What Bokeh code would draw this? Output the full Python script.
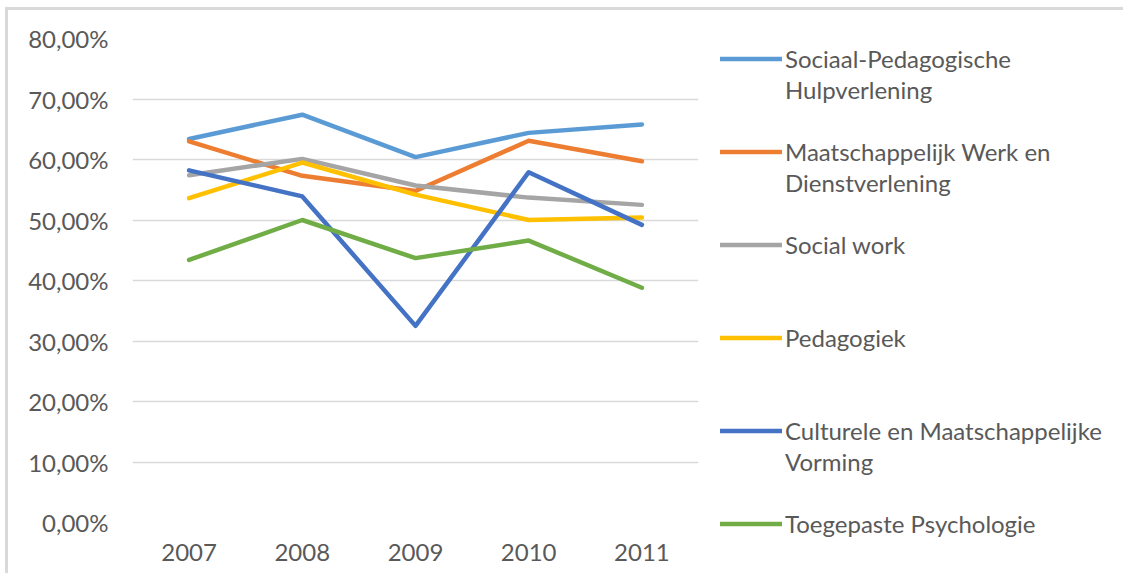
from bokeh.plotting import figure
from bokeh.models import FactorRange, Range1d, FixedTicker, Legend, LegendItem
from bokeh.embed import file_html
from bokeh.resources import INLINE

# ---- data ----
years = ["2007", "2008", "2009", "2010", "2011"]
sociaal_pedagogische = [63.4, 67.4, 60.4, 64.4, 65.8]
maatschappelijk_werk = [63.0, 57.3, 54.8, 63.1, 59.7]
social_work = [57.4, 60.1, 55.7, 53.7, 52.5]
pedagogiek = [53.6, 59.5, 54.2, 50.0, 50.4]
culturele_vorming = [58.2, 53.9, 32.5, 57.9, 49.2]
toegepaste_psychologie = [43.4, 50.0, 43.7, 46.6, 38.8]

series = [sociaal_pedagogische, maatschappelijk_werk, social_work,
          pedagogiek, culturele_vorming, toegepaste_psychologie]
legend_first_lines = ["Sociaal-Pedagogische", "Maatschappelijk Werk en", "Social work",
                      "Pedagogiek", "Culturele en Maatschappelijke", "Toegepaste Psychologie"]
legend_second_lines = ["Hulpverlening", "Dienstverlening", "", "", "Vorming", ""]
colors = ["#5B9BD5", "#ED7D31", "#A5A5A5", "#FFC000", "#4472C4", "#70AD47"]

y_ticks = [0, 10, 20, 30, 40, 50, 60, 70, 80]
y_tick_labels = ["0,00%", "10,00%", "20,00%", "30,00%", "40,00%",
                 "50,00%", "60,00%", "70,00%", "80,00%"]

FONT = "Lato"
TEXT = "#595959"

FRAME_W, FRAME_H = 566, 484
LEFT, TOP = 124, 28
W, H = 1112, 563

p = figure(x_range=FactorRange(*years), y_range=Range1d(0, 80),
           frame_width=FRAME_W, frame_height=FRAME_H,
           min_border_left=LEFT, min_border_top=TOP,
           min_border_right=W - LEFT - FRAME_W, min_border_bottom=H - TOP - FRAME_H,
           output_backend="svg", toolbar_location=None)
p.x_range.range_padding = 0
p.outline_line_color = None
p.background_fill_color = "white"
p.border_fill_color = "white"
p.styles = {"border-top": "3px solid #d9d9d9", "border-left": "3px solid #d9d9d9",
            "margin-left": "5px", "margin-top": "7px"}

p.yaxis.ticker = FixedTicker(ticks=y_ticks)
p.yaxis.major_label_overrides = {t: l for t, l in zip(y_ticks, y_tick_labels)}
for ax in (p.xaxis[0], p.yaxis[0]):
    ax.axis_line_color = None
    ax.major_tick_line_color = None
    ax.minor_tick_line_color = None
    ax.major_label_text_font = FONT
    ax.major_label_text_font_size = "24px"
    ax.major_label_text_color = TEXT
p.yaxis.major_label_standoff = 18
p.xaxis.major_label_standoff = 15

p.xgrid.grid_line_color = None
p.ygrid.grid_line_color = "#d9d9d9"
p.ygrid.grid_line_width = 1.5
p.ygrid.ticker = FixedTicker(ticks=y_ticks)

renderers = []
for vals, c in zip(series, colors):
    r = p.line(years, vals, line_color=c, line_width=4.5, line_join="round", line_cap="round")
    renderers.append(r)

# invisible renderer used for wrapped second lines and spacer rows
blank = p.line([], [], line_alpha=0)

# legend rows on a regular pitch; each series starts at its own row
start_rows = [0, 3, 6, 9, 12, 15]
n_rows = 16
rows = [("\u00a0", blank)] * n_rows
for row, first, second, r in zip(start_rows, legend_first_lines, legend_second_lines, renderers):
    rows[row] = (first, r)
    if second:
        rows[row + 1] = (second, blank)
items = [LegendItem(label=t, renderers=[r]) for t, r in rows]

legend = Legend(items=items, location=(22, -16), orientation="vertical",
                glyph_width=62, glyph_height=29, label_height=29, spacing=2,
                label_standoff=3, padding=0, margin=0,
                border_line_color=None, background_fill_alpha=0,
                label_text_font=FONT, label_text_font_size="24px",
                label_text_color=TEXT, label_text_baseline="middle")
p.add_layout(legend, "right")

open("out.html", "w").write(file_html(p, INLINE))
